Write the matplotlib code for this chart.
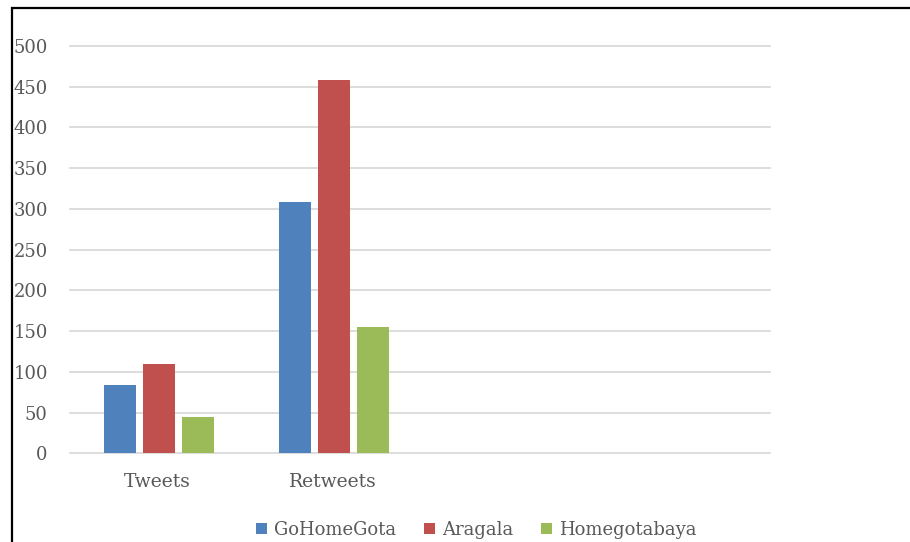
import matplotlib.pyplot as plt
import numpy as np
from matplotlib.patches import Rectangle

categories = ["Tweets", "Retweets", "", ""]
series_names = ["GoHomeGota", "Aragala", "Homegotabaya"]
gohomegota = [84, 308, 0, 0]
aragala = [110, 458, 0, 0]
homegotabaya = [45, 155, 0, 0]
colors = ["#4F81BD", "#C0504D", "#9BBB59"]

plt.rcParams["font.family"] = ["DejaVu Serif"]

fig = plt.figure(figsize=(9.10, 5.42), dpi=100)
ax = fig.add_axes([70 / 910, 1 - 453.3 / 542, 700 / 910, (453.3 - 46) / 542])

x = np.arange(len(categories))
width = 0.183
step = 0.223
for i, (vals, name) in enumerate(zip([gohomegota, aragala, homegotabaya], series_names)):
    ax.bar(x + 0.01 + (i - 1) * step, vals, width, color=colors[i], label=name, zorder=3)

ax.set_xlim(-0.5, len(categories) - 0.5)
ax.set_ylim(0, 500)
ax.set_yticks(np.arange(0, 501, 50))
ax.set_xticks(x)
ax.set_xticklabels(categories)
ax.grid(axis="y", color="#dadada", linewidth=1.3, zorder=0)
for gl in ax.get_ygridlines():
    gl.set_clip_on(False)
for s in ax.spines.values():
    s.set_visible(False)
ax.tick_params(axis="both", length=0, colors="#595959", labelsize=13)
ax.tick_params(axis="y", pad=16)
ax.tick_params(axis="x", pad=14, labelsize=13.5)

ax.legend(loc="center", bbox_to_anchor=(476.5 / 910, 1 - 530 / 542), bbox_transform=fig.transFigure,
          ncol=3, frameon=False, fontsize=13, handlelength=0.6, handleheight=0.6,
          handletextpad=0.4, columnspacing=1.55, labelcolor="#595959")

# outer frame of the chart area (cut off at right and bottom)
fig.patches.append(Rectangle((11.5 / 910, -0.1), 1.2, 1.1 - 7.5 / 542, transform=fig.transFigure,
                             fill=False, edgecolor="black", linewidth=1.6))

fig.savefig("out.png", dpi=100)
